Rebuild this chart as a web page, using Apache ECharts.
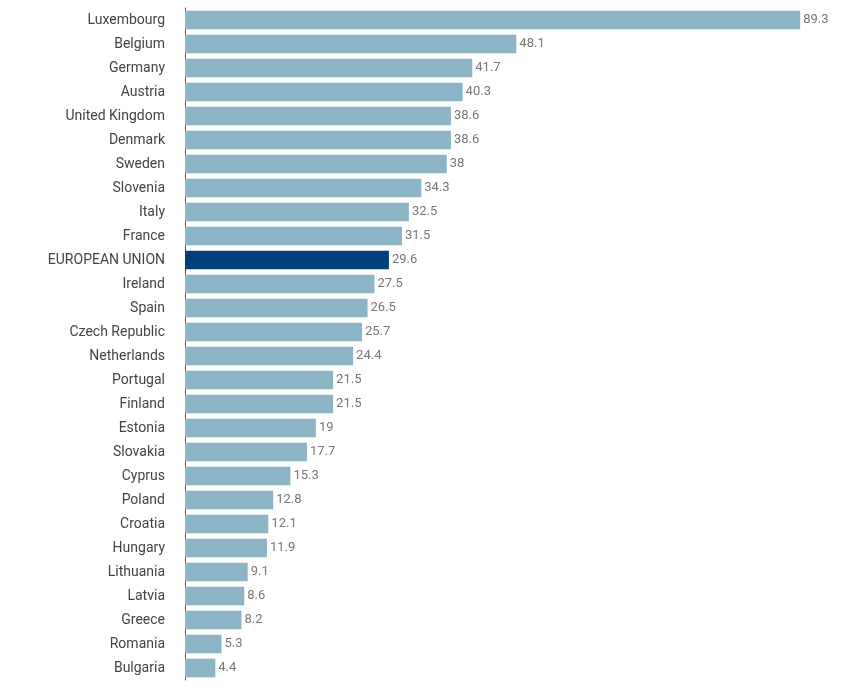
<!DOCTYPE html>
<html><head><meta charset="utf-8">
<script src="https://cdn.jsdelivr.net/npm/echarts@6/dist/echarts.min.js"></script>
<style>html,body{margin:0;padding:0;background:#fff}#c{width:860px;height:688px}</style>
</head><body><div id="c"></div>
<script>
const categories=["Luxembourg","Belgium","Germany","Austria","United Kingdom","Denmark","Sweden","Slovenia","Italy","France","EUROPEAN UNION","Ireland","Spain","Czech Republic","Netherlands","Portugal","Finland","Estonia","Slovakia","Cyprus","Poland","Croatia","Hungary","Lithuania","Latvia","Greece","Romania","Bulgaria"];
const values=[89.3,48.1,41.7,40.3,38.6,38.6,38,34.3,32.5,31.5,29.6,27.5,26.5,25.7,24.4,21.5,21.5,19,17.7,15.3,12.8,12.1,11.9,9.1,8.6,8.2,5.3,4.4];
const highlight="EUROPEAN UNION";
const chart=echarts.init(document.getElementById('c'));
chart.setOption({
  animation:false,
  grid:{left:185,right:55,top:8,bottom:8},
  xAxis:{type:'value',min:0,max:90,show:false},
  yAxis:{type:'category',inverse:true,data:categories,
    axisLine:{lineStyle:{color:'#555',width:1}},axisTick:{show:false},
    axisLabel:{color:'#444',fontSize:14,fontFamily:'Roboto',margin:20}},
  series:[{type:'bar',barCategoryGap:'22%',
    data:values.map((v,i)=>({value:v,itemStyle:{color:categories[i]===highlight?'#003f7a':'#8bb4c5'}})),
    label:{show:true,position:'right',distance:3,color:'#777',fontSize:13,fontFamily:'Roboto'}}]
});
</script></body></html>
